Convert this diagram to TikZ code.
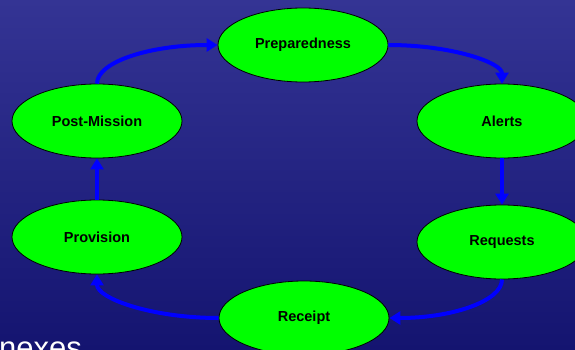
\documentclass[tikz,border=0pt]{standalone}
\usepackage{fontspec}
\setmainfont{Liberation Sans}
\usetikzlibrary{shapes.geometric,arrows.meta}
\definecolor{bgtop}{RGB}{52,52,148}
\definecolor{bgbot}{RGB}{20,20,112}
\definecolor{nodegreen}{RGB}{0,255,0}
\definecolor{arrowblue}{RGB}{0,0,255}
\tikzset{
  stage/.style={ellipse, draw=black, line width=0.8pt, fill=nodegreen, minimum width=170pt, minimum height=74pt, inner sep=0pt, font=\fontsize{14.5}{16}\selectfont\bfseries, text=black},
  flow/.style={draw=arrowblue, line width=4pt, -{Triangle[length=11pt,width=13pt]}},
}
\begin{document}
\begin{tikzpicture}[x=1pt,y=-1pt]
\useasboundingbox (0,0) rectangle (575,350);
\clip (0,0) rectangle (575,350);
\shade[top color=bgtop, bottom color=bgbot] (0,0) rectangle (575,350);
\node[stage] (prep) at (303,45) {Preparedness};
\node[stage] (alerts) at (502,121) {Alerts};
\node[stage] (req) at (502,242) {Requests};
\node[stage] (rec) at (304,318) {Receipt};
\node[stage] (prov) at (97,237) {Provision};
\node[stage] (post) at (97,121) {Post-Mission};
\draw[flow] (post.north) .. controls +(0,-22) and +(-67,0) .. (prep.west);
\draw[flow] (prep.east) .. controls +(63,0) and +(0,-21) .. (alerts.north);
\draw[flow] (alerts.south) -- (req.north);
\draw[flow] (req.south) .. controls +(0,22) and +(62,0) .. (rec.east);
\draw[flow] (rec.west) .. controls +(-67,0) and +(0,24) .. (prov.south);
\draw[flow] (prov.north) -- (post.south);
\node[anchor=base west, inner sep=0pt, text=white, font=\fontsize{31}{33}\selectfont] (annex) at (-1,358) {nexes};
\end{tikzpicture}
\end{document}
